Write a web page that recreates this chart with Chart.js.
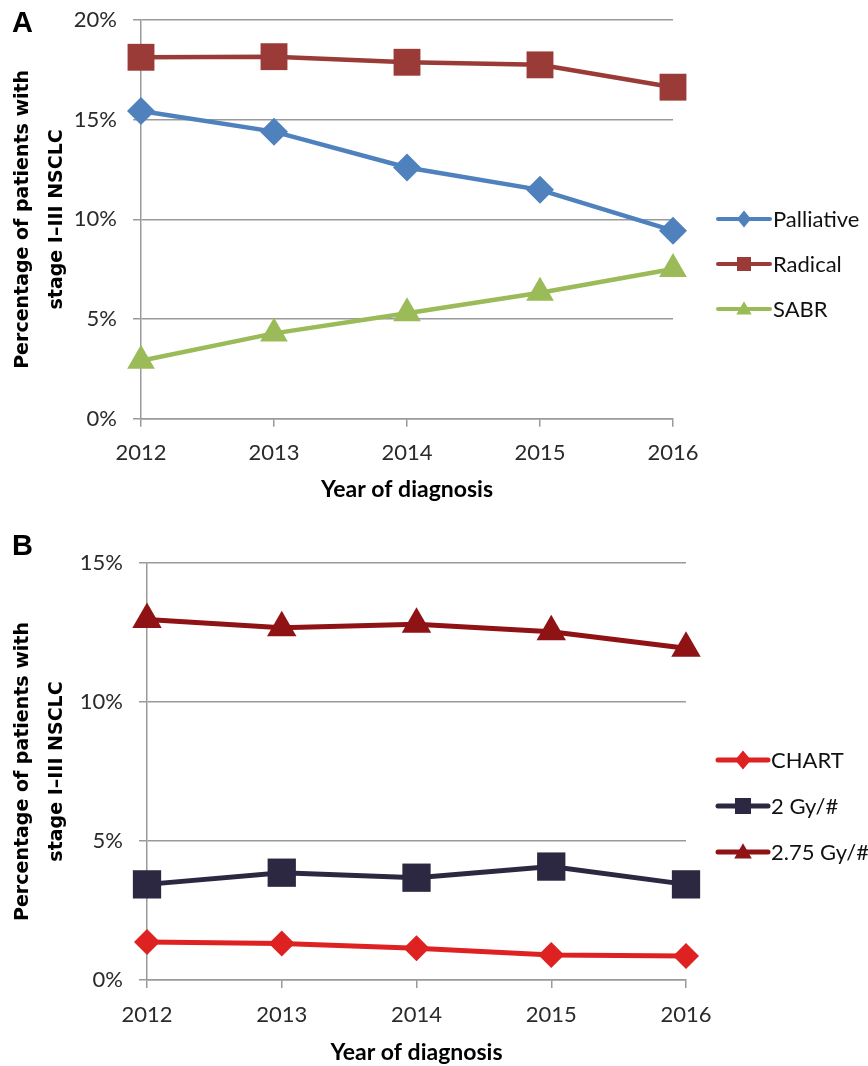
<!DOCTYPE html>
<html>
<head>
<meta charset="utf-8">
<script src="https://cdn.jsdelivr.net/npm/chart.js@4.4.1/dist/chart.umd.min.js"></script>
<style>
  html, body { margin: 0; padding: 0; background: #fff; }
  body { width: 868px; height: 1066px; position: relative; overflow: hidden; }
  .panel { position: absolute; left: 0; width: 868px; height: 533px; }
  .tag { position: absolute; z-index: 2; font: bold 29px "Liberation Sans", Arial, sans-serif; line-height: 29px; color: #000; }
</style>
</head>
<body>
<div class="tag" style="left:12px; top:8px">A</div>
<div class="panel" style="top:0"><canvas id="chartA" width="868" height="533"></canvas></div>
<div class="tag" style="left:12px; top:531px">B</div>
<div class="panel" style="top:533px"><canvas id="chartB" width="868" height="533"></canvas></div>
<script>
// Year of diagnosis (shared by both panels)
const years = ["2012", "2013", "2014", "2015", "2016"];

// Panel A: percentage of stage I-III NSCLC patients by treatment intent
const palliative = [15.44, 14.40, 12.60, 11.48, 9.43];
const radical    = [18.13, 18.16, 17.88, 17.75, 16.63];
const sabr       = [2.91, 4.28, 5.29, 6.32, 7.51];
const ticksA     = [0, 5, 10, 15, 20];

// Panel B: radical radiotherapy by fractionation
const chartFx   = [1.37, 1.31, 1.14, 0.90, 0.86];
const gy2       = [3.44, 3.86, 3.68, 4.08, 3.44];
const gy275     = [12.97, 12.67, 12.80, 12.53, 11.93];
const ticksB    = [0, 5, 10, 15];

const GRID = "#9a9a9a";
const TICK_FONT = { family: "Lato", size: 22 };

// little line+marker legend, Excel style
function drawMarker(ctx, style, x, y, r, color) {
  ctx.fillStyle = color;
  ctx.beginPath();
  if (style === "rect") {
    ctx.rect(x - r, y - r, 2 * r, 2 * r);
  } else if (style === "rectRot") {
    ctx.moveTo(x, y - r * 1.2);
    ctx.lineTo(x + r, y);
    ctx.lineTo(x, y + r * 1.2);
    ctx.lineTo(x - r, y);
    ctx.closePath();
  } else {
    ctx.moveTo(x, y - r * 1.1);
    ctx.lineTo(x + r * 1.1, y + r * 0.8);
    ctx.lineTo(x - r * 1.1, y + r * 0.8);
    ctx.closePath();
  }
  ctx.fill();
}

const lineLegend = {
  id: "lineLegend",
  afterDraw(chart, args, opts) {
    const ctx = chart.ctx;
    ctx.save();
    chart.data.datasets.forEach((ds, i) => {
      const y = opts.top + i * opts.gap;
      ctx.strokeStyle = ds.borderColor;
      ctx.lineWidth = opts.lineWidth;
      ctx.lineCap = "round";
      ctx.beginPath();
      ctx.moveTo(opts.x, y);
      ctx.lineTo(opts.x + opts.length, y);
      ctx.stroke();
      drawMarker(ctx, ds.pointStyle, opts.x + opts.length / 2, y, opts.marker, ds.pointBackgroundColor);
      ctx.fillStyle = "#111";
      ctx.font = opts.font;
      ctx.textAlign = "left";
      ctx.textBaseline = "middle";
      ctx.fillText(ds.label, opts.x + opts.length + 3, y + 1);
    });
    ctx.restore();
  }
};

function series(label, data, color, style, radius, width) {
  return {
    label: label,
    data: data,
    borderColor: color,
    backgroundColor: color,
    pointBackgroundColor: color,
    pointBorderColor: color,
    pointBorderWidth: 0,
    pointStyle: style,
    pointRadius: radius,
    pointHoverRadius: radius,
    borderWidth: width,
    tension: 0,
    clip: false
  };
}

function makeOptions(cfg) {
  return {
    responsive: false,
    animation: false,
    devicePixelRatio: 1,
    events: [],
    layout: { padding: { top: cfg.top, right: cfg.right, left: 0, bottom: 0 } },
    plugins: {
      legend: { display: false },
      tooltip: { enabled: false },
      lineLegend: cfg.legend
    },
    scales: {
      x: {
        type: "category",
        offset: false,
        afterFit: s => { s.height = cfg.xHeight; },
        grid: { drawOnChartArea: false, drawTicks: true, tickLength: 8, color: GRID, lineWidth: 1.5 },
        border: { display: true, color: GRID, width: 1.5 },
        ticks: { font: TICK_FONT, color: "#2a2a2a", padding: cfg.xPad, maxRotation: 0 },
        title: {
          display: true,
          text: "Year of diagnosis",
          font: { family: "Lato", size: 23, weight: "bold" },
          color: "#000",
          padding: { top: 0, bottom: cfg.titlePad }
        }
      },
      y: {
        min: 0,
        max: cfg.max,
        afterFit: s => { s.width = cfg.yWidth; s.paddingTop = 0; s.paddingBottom = 0; },
        afterBuildTicks: s => { s.ticks = cfg.ticks.map(v => ({ value: v })); },
        grid: { color: GRID, lineWidth: 1.5, drawTicks: true, tickLength: 8 },
        border: { display: true, color: GRID, width: 1.5 },
        ticks: { font: TICK_FONT, color: "#2a2a2a", padding: 16, callback: v => v + "%" },
        title: {
          display: true,
          text: ["Percentage of patients with", "stage I\u2013III NSCLC"],
          font: { family: "DejaVu Sans", size: 19, weight: "bold", lineHeight: 1.8 },
          color: "#000",
          padding: { top: 6, bottom: 0 }
        }
      }
    }
  };
}

new Chart(document.getElementById("chartA"), {
  type: "line",
  data: {
    labels: years,
    datasets: [
      series("Palliative", palliative, "#4f81bd", "rectRot", 14, 4.5),
      series("Radical", radical, "#9a3b38", "rect", 19, 4.5),
      series("SABR", sabr, "#9bbb59", "triangle", 16, 4.5)
    ]
  },
  options: makeOptions({
    top: 20, right: 195, xHeight: 114.3, xPad: 13, titlePad: 30,
    yWidth: 141, max: 20, ticks: ticksA,
    legend: { x: 718, top: 219, gap: 45, length: 52, lineWidth: 4, marker: 7, font: "22px Lato" }
  }),
  plugins: [lineLegend]
});

new Chart(document.getElementById("chartB"), {
  type: "line",
  data: {
    labels: years,
    datasets: [
      series("CHART", chartFx, "#de2121", "rectRot", 13, 5),
      series("2 Gy/#", gy2, "#2d2842", "rect", 20, 5),
      series("2.75 Gy/#", gy275, "#8f1214", "triangle", 17, 5)
    ]
  },
  options: makeOptions({
    top: 30, right: 182, xHeight: 86, xPad: 14, titlePad: 0,
    yWidth: 147, max: 15, ticks: ticksB,
    legend: { x: 718, top: 227, gap: 46, length: 50, lineWidth: 5, marker: 8, font: "22px Lato" }
  }),
  plugins: [lineLegend]
});
</script>
</body>
</html>
